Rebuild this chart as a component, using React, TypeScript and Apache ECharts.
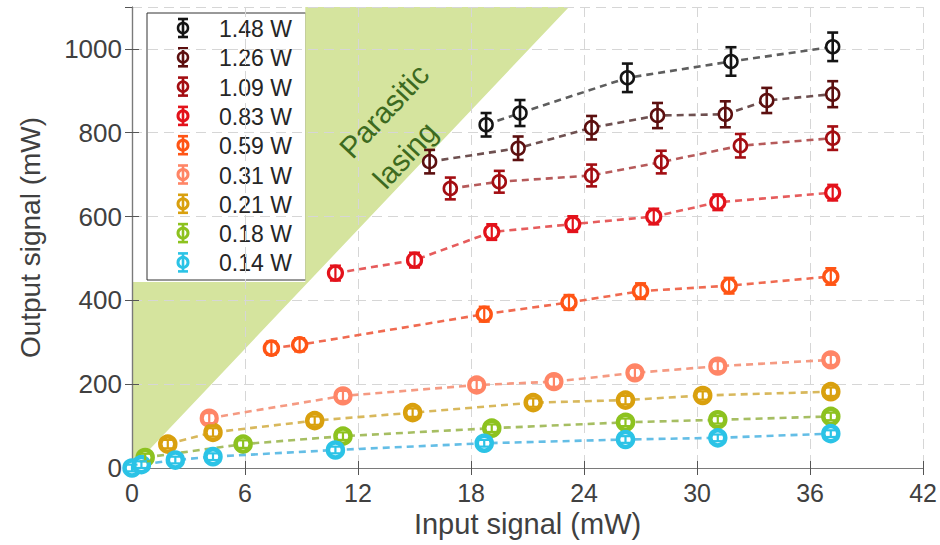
import React, { useEffect, useRef } from 'react';
import * as echarts from 'echarts';

// Pump power levels (legend)
const seriesNames = ['1.48 W', '1.26 W', '1.09 W', '0.83 W', '0.59 W', '0.31 W', '0.21 W', '0.18 W', '0.14 W'];

// [input signal mW, output signal mW, error bar half-height mW]
const p148 = [[18.8, 819, 28], [20.6, 847, 31], [26.3, 931, 34], [31.8, 970, 34], [37.2, 1005, 34]];
const p126 = [[15.8, 731, 28], [20.5, 763, 28], [24.4, 812, 28], [27.9, 841, 30], [31.5, 844, 31], [33.7, 877, 30], [37.2, 892, 31]];
const p109 = [[16.9, 667, 26], [19.5, 683, 26], [24.4, 698, 26], [28.1, 730, 27], [32.3, 769, 28], [37.2, 787, 28]];
const p083 = [[10.8, 465, 18], [15.0, 496, 18], [19.1, 563, 19], [23.4, 582, 19], [27.7, 600, 19], [31.1, 634, 19], [37.2, 657, 19]];
const p059 = [[7.4, 286, 16], [8.9, 294, 16], [18.7, 367, 18], [23.2, 395, 18], [27.0, 422, 19], [31.7, 435, 19], [37.1, 457, 20]];
const p031 = [[4.1, 119, 12], [11.2, 172, 12], [18.3, 198, 12], [22.4, 206, 12], [26.7, 227, 12], [31.1, 243, 12], [37.1, 258, 12]];
const p021 = [[1.9, 57, 10], [4.3, 85, 10], [9.7, 113, 10], [14.9, 132, 10], [21.3, 156, 10], [26.2, 162, 10], [30.3, 173, 10], [37.1, 182, 10]];
const p018 = [[0.7, 25, 9], [5.9, 57, 9], [11.2, 76, 9], [19.1, 95, 9], [26.2, 109, 9], [31.1, 115, 9], [37.1, 123, 9]];
const p014 = [[0, 0, 8], [0.5, 8, 8], [2.3, 19, 8], [4.3, 27, 8], [10.8, 43, 8], [18.7, 59, 8], [26.2, 68, 8], [31.1, 72, 8], [37.1, 82, 8]];

const allData = [p148, p126, p109, p083, p059, p031, p021, p018, p014];

// Parasitic lasing region vertices (input mW, output mW)
const parasiticRegion = [[0, 0], [0, 444], [9.2, 444], [9.2, 1100], [23.2, 1100]];

const xTicks = { min: 0, max: 42, interval: 6 };
const yTicks = { min: 0, max: 1100, interval: 200 };

// styles
const markerColors = ['#141414', '#5c0f0f', '#a30d12', '#e3121b', '#ff5515', '#ff8566', '#d9a00e', '#8dc21f', '#2bc3e6'];
const lineColors = ['#5e5e5e', '#6e5050', '#b65a5a', '#e65c5c', '#f06a50', '#f59a82', '#d8b85c', '#a6be62', '#64bee6'];
const markerSizes = [13, 13, 13, 14, 14, 15, 15, 15, 15];
const borderWidths = [2.5, 2.5, 2.6, 3.2, 3.4, 4.2, 4.5, 4.5, 4.5];

const FONT = 'Liberation Sans, Arial, Helvetica, sans-serif';

export default function App() {
  const ref = useRef<HTMLDivElement>(null);

  useEffect(() => {
    document.body.style.margin = '0';
    if (!ref.current) return;
    const chart = echarts.init(ref.current, null, { renderer: 'svg' });

    const series: any[] = [];

    series.push({
      type: 'custom',
      name: 'region',
      z: 0,
      silent: true,
      data: [[0, 0]],
      renderItem: (params: any, api: any) => {
        const pts = parasiticRegion.map((p) => api.coord(p));
        return {
          type: 'polygon',
          shape: { points: pts },
          style: { fill: '#d5e49e', stroke: null },
        };
      },
    });

    allData.forEach((d, i) => {
      series.push({
        type: 'line',
        name: seriesNames[i],
        data: d.map((p) => [p[0], p[1]]),
        z: 3 + i,
        clip: false,
        symbol: 'circle',
        symbolSize: markerSizes[i],
        lineStyle: { color: lineColors[i], width: 2.6, type: [7, 5] },
        itemStyle: { color: '#ffffff', borderColor: markerColors[i], borderWidth: borderWidths[i] },
      });
      series.push({
        type: 'custom',
        name: seriesNames[i] + ' err',
        data: d,
        z: 20 + i,
        clip: false,
        encode: { x: 0, y: 1 },
        renderItem: (params: any, api: any) => {
          const x = api.value(0);
          const y = api.value(1);
          const e = api.value(2);
          const top = api.coord([x, y + e]);
          const bot = api.coord([x, y - e]);
          const hw = 5.5;
          const style = { stroke: markerColors[i], lineWidth: i < 3 ? 2.6 : 2.2, fill: null };
          return {
            type: 'group',
            children: [
              { type: 'line', shape: { x1: top[0], y1: top[1], x2: bot[0], y2: bot[1] }, style },
              { type: 'line', shape: { x1: top[0] - hw, y1: top[1], x2: top[0] + hw, y2: top[1] }, style },
              { type: 'line', shape: { x1: bot[0] - hw, y1: bot[1], x2: bot[0] + hw, y2: bot[1] }, style },
            ],
          };
        },
      });
    });

    // legend drawn as graphic
    const legendX = 147, legendY = 13, legendW = 159, legendH = 267;
    const rowGap = 29.3;
    const legendChildren: any[] = [
      { type: 'rect', shape: { x: legendX, y: legendY, width: legendW, height: legendH }, style: { fill: '#ffffff', stroke: '#333333', lineWidth: 1 } },
    ];
    seriesNames.forEach((n, i) => {
      const cy = legendY + 15 + i * rowGap;
      const cx = 183;
      const c = markerColors[i];
      legendChildren.push({ type: 'circle', shape: { cx, cy, r: 5 }, style: { fill: '#fff', stroke: c, lineWidth: Math.min(borderWidths[i], 3) } });
      legendChildren.push({ type: 'line', shape: { x1: cx, y1: cy - 9, x2: cx, y2: cy + 9 }, style: { stroke: c, lineWidth: 2.6 } });
      legendChildren.push({ type: 'line', shape: { x1: cx - 5, y1: cy - 9, x2: cx + 5, y2: cy - 9 }, style: { stroke: c, lineWidth: 2.6 } });
      legendChildren.push({ type: 'line', shape: { x1: cx - 5, y1: cy + 9, x2: cx + 5, y2: cy + 9 }, style: { stroke: c, lineWidth: 2.6 } });
      legendChildren.push({
        type: 'text',
        x: 219,
        y: cy + 1,
        style: { text: n, fontSize: 23, fontFamily: FONT, fill: '#262626', textVerticalAlign: 'middle', textAlign: 'left' },
      });
    });

    const option: any = {
      animation: false,
      backgroundColor: '#ffffff',
      grid: { left: 132, right: 14, top: 7, bottom: 77, containLabel: false },
      xAxis: [
        {
          type: 'value',
          min: xTicks.min,
          max: xTicks.max,
          interval: xTicks.interval,
          z: 1,
          name: 'Input signal (mW)',
          nameLocation: 'middle',
          nameGap: 37,
          nameTextStyle: { fontSize: 29, fontFamily: FONT, color: '#404040' },
          axisLine: { show: true, lineStyle: { color: '#7a7a7a', width: 1.2 } },
          axisTick: { show: true, inside: true, length: 7, lineStyle: { color: '#555' } },
          axisLabel: { fontSize: 25, fontFamily: FONT, color: '#404040', margin: 12 },
          splitLine: { show: true, lineStyle: { color: '#d6d6d6', width: 1, type: [10, 6] } },
        },
        {
          type: 'value',
          position: 'top',
          min: xTicks.min,
          max: xTicks.max,
          interval: xTicks.interval,
          z: 1,
          axisLine: { show: true, lineStyle: { color: '#7a7a7a', width: 1.2 } },
          axisTick: { show: true, inside: true, length: 7, lineStyle: { color: '#555' } },
          axisLabel: { show: false },
          splitLine: { show: false },
        },
      ],
      yAxis: [
        {
          type: 'value',
          min: yTicks.min,
          max: yTicks.max,
          interval: yTicks.interval,
          z: 1,
          name: 'Output signal (mW)',
          nameLocation: 'middle',
          nameGap: 88,
          nameTextStyle: { fontSize: 28, fontFamily: FONT, color: '#404040' },
          axisLine: { show: true, lineStyle: { color: '#7a7a7a', width: 1.2 } },
          axisTick: { show: true, inside: true, length: 7, lineStyle: { color: '#555' } },
          axisLabel: {
            fontSize: 26,
            fontFamily: FONT,
            color: '#404040',
            margin: 10,
            showMaxLabel: false,
            formatter: (v: number) => (v % yTicks.interval === 0 ? String(v) : ''),
          },
          splitLine: { show: true, lineStyle: { color: '#d6d6d6', width: 1, type: [10, 6] } },
        },
        {
          type: 'value',
          position: 'right',
          min: yTicks.min,
          max: yTicks.max,
          interval: yTicks.interval,
          z: 1,
          axisLine: { show: true, lineStyle: { color: '#7a7a7a', width: 1.2 } },
          axisTick: { show: true, inside: true, length: 7, lineStyle: { color: '#555' } },
          axisLabel: { show: false },
          splitLine: { show: false },
        },
      ],
      graphic: [
        { type: 'group', z: 50, children: legendChildren },
        {
          type: 'text',
          z: 50,
          x: 384,
          y: 111,
          rotation: 0.82,
          style: { text: 'Parasitic', fontSize: 30, fontFamily: FONT, fill: '#3d6a1f', textAlign: 'center', textVerticalAlign: 'middle' },
        },
        {
          type: 'text',
          z: 50,
          x: 405,
          y: 155,
          rotation: 0.82,
          style: { text: 'lasing', fontSize: 30, fontFamily: FONT, fill: '#3d6a1f', textAlign: 'center', textVerticalAlign: 'middle' },
        },
      ],
      series,
    };

    chart.setOption(option);
    return () => chart.dispose();
  }, []);

  return <div ref={ref} style={{ width: 940, height: 545 }} />;
}
